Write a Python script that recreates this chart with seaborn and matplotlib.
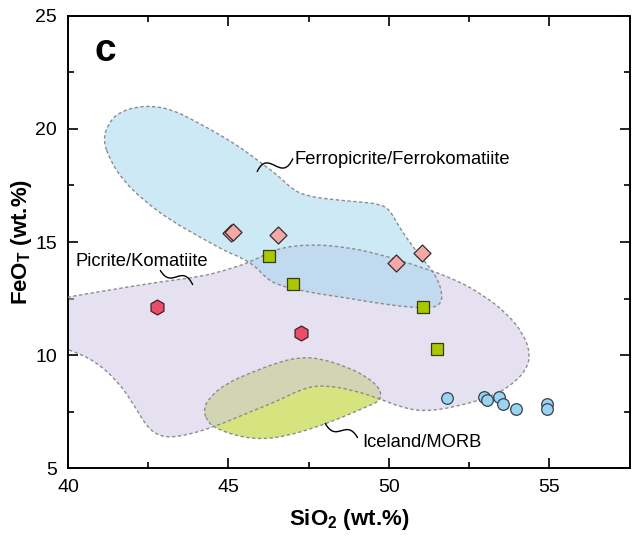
"""FeO_T vs SiO2 discrimination plot with picrite / ferropicrite / MORB fields."""

import matplotlib

matplotlib.use("Agg")
import matplotlib.pyplot as plt
import numpy as np
import pandas as pd
import seaborn as sns
from matplotlib.patches import PathPatch
from matplotlib.path import Path
from matplotlib.ticker import MultipleLocator


# sample points (SiO2, FeO_T in wt.%)
DIAMOND_SIO2 = [45.09, 45.15, 46.54, 50.22, 51.03]
DIAMOND_FEO = [15.39, 15.45, 15.31, 14.07, 14.51]

SQUARE_SIO2 = [46.26, 47.00, 51.06, 51.50]
SQUARE_FEO = [14.38, 13.14, 12.12, 10.27]

HEX_SIO2 = [42.77, 47.26]
HEX_FEO = [12.12, 10.97]

CIRCLE_SIO2 = [51.82, 52.97, 53.07, 53.44, 53.56, 53.96, 54.93, 54.93]
CIRCLE_FEO = [8.08, 8.13, 8.01, 8.13, 7.83, 7.60, 7.82, 7.60]

# field outlines
FERRO_SIO2 = [41.09, 41.25, 41.56, 42.09, 42.65, 43.27, 43.89, 44.64, 45.36, 45.98,
              46.60, 47.01, 47.45, 48.07, 49.10, 49.72, 50.03, 50.34, 50.75, 51.18,
              51.50, 51.68, 51.59, 51.28, 50.56, 49.63, 48.47, 47.45, 46.51, 46.14,
              45.83, 45.36, 44.95, 44.11, 43.18, 42.34, 41.71, 41.31]
FERRO_FEO = [19.51, 20.22, 20.71, 20.97, 21.02, 20.84, 20.40, 19.82, 19.20, 18.54,
             17.88, 17.30, 17.04, 16.90, 16.77, 16.68, 16.42, 15.62, 14.78, 14.03,
             13.45, 12.65, 12.21, 12.08, 12.12, 12.30, 12.57, 12.79, 13.10, 13.45,
             13.94, 14.34, 14.56, 15.22, 15.97, 16.86, 17.74, 18.63]

PICRITE_SIO2 = [39.75, 40.06, 41.31, 42.87, 44.11, 44.94, 45.72, 46.50, 47.54, 48.58,
                49.62, 50.97, 52.11, 52.94, 53.67, 54.18, 54.41, 54.29, 53.77, 53.15,
                52.11, 51.07, 50.34, 49.82, 48.89, 47.95, 47.33, 46.60, 45.57, 44.53,
                43.49, 42.87, 42.45, 42.03, 41.52, 40.79, 40.06, 39.75]
PICRITE_FEO = [12.48, 12.58, 12.88, 13.24, 13.46, 13.76, 14.13, 14.72, 14.90, 14.79,
               14.50, 13.91, 13.32, 12.65, 11.85, 10.96, 10.08, 9.34, 8.60, 8.15,
               7.71, 7.49, 7.71, 8.01, 8.45, 8.67, 8.53, 8.01, 7.42, 6.80,
               6.38, 6.38, 6.83, 7.86, 8.89, 9.78, 10.22, 10.35]

ICELAND_SIO2 = [44.21, 44.42, 44.94, 45.77, 46.60, 47.23, 47.85, 48.68, 49.31, 49.72,
                49.77, 49.31, 48.47, 47.64, 46.81, 46.08, 45.36, 44.74, 44.37]
ICELAND_FEO = [7.57, 8.15, 8.75, 9.26, 9.70, 9.90, 9.85, 9.48, 9.04, 8.53,
               8.01, 7.71, 7.20, 6.76, 6.42, 6.27, 6.38, 6.68, 6.98]

# leader squiggles: start, control, control, end
FERRO_LEADER = [(45.89, 18.10), (46.25, 19.20), (46.65, 17.55), (47.01, 18.70)]
PICRITE_LEADER = [(42.87, 13.76), (43.24, 12.85), (43.55, 14.10), (43.89, 13.10)]
ICELAND_LEADER = [(48.01, 6.99), (48.38, 6.05), (48.66, 7.25), (49.03, 6.33)]


def smooth_closed_path(xs, ys) -> Path:
    """Closed quadratic-bezier outline through the midpoints of the vertices."""
    pts = np.column_stack([xs, ys])
    mids = (pts + np.roll(pts, -1, axis=0)) / 2
    verts = [mids[-1]]
    codes = [Path.MOVETO]
    for p, m in zip(pts, mids):
        verts += [p, m]
        codes += [Path.CURVE3, Path.CURVE3]
    return Path(verts, codes)


def add_field(ax, xs, ys, color, alpha, zorder):
    path = smooth_closed_path(xs, ys)
    ax.add_patch(PathPatch(path, facecolor=color, edgecolor="none", alpha=alpha, zorder=zorder))
    return path


def add_leader(ax, pts):
    path = Path(pts, [Path.MOVETO, Path.CURVE4, Path.CURVE4, Path.CURVE4])
    ax.add_patch(PathPatch(path, facecolor="none", edgecolor="black", lw=1.0, zorder=6))


sns.set_theme(style="ticks")
plt.rcParams["font.family"] = ["Liberation Sans", "DejaVu Sans"]
plt.rcParams["mathtext.default"] = "regular"
plt.rcParams["text.color"] = "black"
plt.rcParams["axes.labelcolor"] = "black"

fig = plt.figure(figsize=(6.32, 5.4), dpi=100)
ax = fig.add_axes([0.1076, 0.1333, 0.8885, 0.8371])

outline_style = dict(facecolor="none", edgecolor="#8c8c8c", lw=1.0, linestyle=(0, (2.4, 1.8)), zorder=4)
paths = [
    add_field(ax, ICELAND_SIO2, ICELAND_FEO, "#D6E480", 1.0, 1),
    add_field(ax, PICRITE_SIO2, PICRITE_FEO, "#CEC8E3", 0.53, 2),
    add_field(ax, FERRO_SIO2, FERRO_FEO, "#9FD5EF", 0.5, 3),
]
for path in paths:
    ax.add_patch(PathPatch(path, **outline_style))

groups = [
    (DIAMOND_SIO2, DIAMOND_FEO, "D", 75, "#F4A9A9", "#3a2a2a"),
    (SQUARE_SIO2, SQUARE_FEO, "s", 66, "#A9C800", "#3a3a10"),
    (HEX_SIO2, HEX_FEO, "h", 115, "#E8506A", "#4a1a22"),
    (CIRCLE_SIO2, CIRCLE_FEO, "o", 70, "#9AD4F2", "#34424a"),
]
for sio2, feo, marker, size, face, edge in groups:
    df = pd.DataFrame({"SiO2": sio2, "FeO": feo})
    sns.scatterplot(data=df, x="SiO2", y="FeO", marker=marker, s=size, color=face,
                    edgecolor=edge, linewidth=0.9, ax=ax, zorder=7, legend=False)

add_leader(ax, FERRO_LEADER)
add_leader(ax, PICRITE_LEADER)
add_leader(ax, ICELAND_LEADER)

label_font = dict(fontsize=13.2, va="center", ha="left", zorder=8, color="black")
ax.text(47.07, 18.63, "Ferropicrite/Ferrokomatiite", **label_font)
ax.text(40.22, 14.13, "Picrite/Komatiite", **label_font)
ax.text(49.18, 6.12, "Iceland/MORB", **label_font)
ax.text(41.15, 23.45, "c", fontsize=28, fontweight="bold", va="center", ha="center", zorder=8)

ax.set_xlim(40, 57.5)
ax.set_ylim(5, 25)
ax.xaxis.set_major_locator(MultipleLocator(5))
ax.xaxis.set_minor_locator(MultipleLocator(2.5))
ax.yaxis.set_major_locator(MultipleLocator(5))
ax.yaxis.set_minor_locator(MultipleLocator(2.5))
ax.tick_params(which="both", direction="in", top=True, right=True, colors="black",
               labelcolor="black", labelsize=14, pad=8, width=1.2)
ax.tick_params(which="major", length=7)
ax.tick_params(which="minor", length=4)
for spine in ax.spines.values():
    spine.set_linewidth(1.4)
    spine.set_color("black")

ax.set_xlabel("SiO$_2$ (wt.%)", fontsize=16, fontweight="bold", labelpad=8)
ax.set_ylabel("FeO$_T$ (wt.%)", fontsize=16, fontweight="bold", labelpad=1)

fig.savefig("out.png", dpi=100)
plt.close(fig)
